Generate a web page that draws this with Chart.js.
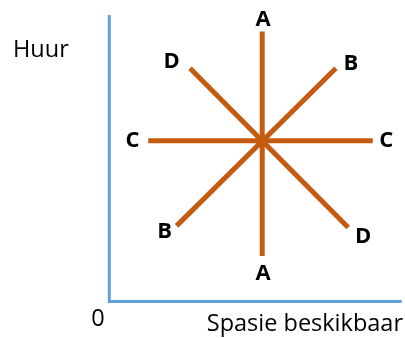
<!DOCTYPE html>
<html>
<head>
<meta charset="utf-8">
<script src="https://cdn.jsdelivr.net/npm/chart.js@4.4.1/dist/chart.umd.min.js"></script>
<style>
  html, body { margin: 0; padding: 0; background: #ffffff; }
  #wrap { width: 405px; height: 338px; position: relative; }
</style>
</head>
<body>
<div id="wrap"><canvas id="c"></canvas></div>
<script>
// ---- data (axis space 0..100 on both axes) ----
const yTitle = "Huur";
const xTitle = "Spasie beskikbaar";
const originLabel = "0";

const lineNames = ["A", "B", "C", "D"];
const lineA = [{x: 52.3, y: 94.2}, {x: 52.3, y: 15.9}];
const lineB = [{x: 23.0, y: 26.4}, {x: 77.5, y: 81.4}];
const lineC = [{x: 13.3, y: 56.1}, {x: 90.1, y: 56.1}];
const lineD = [{x: 27.6, y: 81.4}, {x: 81.7, y: 25.8}];

const labelText = ["A", "A", "B", "B", "C", "C", "D", "D"];
const labelX    = [52.6, 52.6, 82.6, 18.9, 7.9, 94.7, 21.3, 86.8];
const labelY    = [98.8, 10.1, 83.5, 24.7, 56.5, 56.5, 84.0, 22.9];

const axisColor = "#64A0DA";
const lineColor = "#C55A11";

const annot = {
  id: "annot",
  afterDraw(chart) {
    const ctx = chart.ctx;
    const a = chart.chartArea;
    const xs = chart.scales.x, ys = chart.scales.y;
    ctx.save();
    // axes
    ctx.strokeStyle = axisColor;
    ctx.lineWidth = 3;
    ctx.lineJoin = "miter";
    ctx.beginPath();
    ctx.moveTo(a.left, a.top);
    ctx.lineTo(a.left, a.bottom);
    ctx.lineTo(a.right, a.bottom);
    ctx.stroke();
    // line end labels
    ctx.fillStyle = "#000000";
    ctx.font = "bold 22px 'Open Sans'";
    ctx.textAlign = "center";
    ctx.textBaseline = "middle";
    for (let i = 0; i < labelText.length; i++) {
      ctx.fillText(labelText[i], xs.getPixelForValue(labelX[i]), ys.getPixelForValue(labelY[i]) + 1);
    }
    // axis texts
    ctx.font = "23.5px 'Open Sans'";
    ctx.textBaseline = "alphabetic";
    ctx.textAlign = "left";
    ctx.fillText(yTitle, 13, 57);
    ctx.textAlign = "center";
    ctx.fillText(originLabel, 98, 325.5);
    ctx.textAlign = "right";
    ctx.fillText(xTitle, 403, 331);
    ctx.restore();
  }
};

const mk = (name, pts) => ({
  label: name,
  data: pts,
  showLine: true,
  borderColor: lineColor,
  backgroundColor: lineColor,
  borderWidth: 5,
  pointRadius: 0,
  pointHoverRadius: 0,
  borderCapStyle: "butt",
  tension: 0
});

new Chart(document.getElementById("c"), {
  type: "scatter",
  data: {
    datasets: [
      mk(lineNames[0], lineA),
      mk(lineNames[1], lineB),
      mk(lineNames[2], lineC),
      mk(lineNames[3], lineD)
    ]
  },
  options: {
    responsive: true,
    maintainAspectRatio: false,
    animation: false,
    events: [],
    layout: { padding: { left: 109.3, top: 15, right: 3.3, bottom: 36.5 } },
    plugins: { legend: { display: false }, tooltip: { enabled: false } },
    scales: {
      x: { type: "linear", min: 0, max: 100, display: false },
      y: { type: "linear", min: 0, max: 100, display: false }
    }
  },
  plugins: [annot]
});
</script>
</body>
</html>
